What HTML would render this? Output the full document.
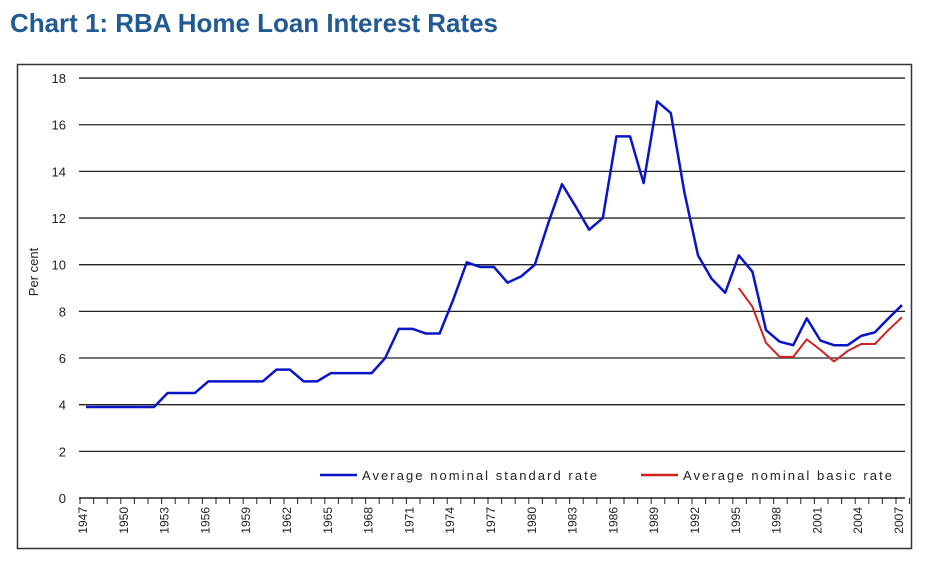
<!DOCTYPE html>
<html><head><meta charset="utf-8"><style>
body{margin:0;background:#fff;width:928px;height:564px;overflow:hidden}
svg{display:block;font-family:"Liberation Sans",sans-serif}
</style></head><body>
<svg id="chart" width="928" height="564">
<text x="10" y="32" font-size="26" font-weight="bold" fill="#215a94" textLength="488" lengthAdjust="spacingAndGlyphs">Chart 1: RBA Home Loan Interest Rates</text>
<rect x="17.5" y="64.5" width="894" height="484" fill="none" stroke="#333" stroke-width="1.5"/>
<g id="grid"></g><g id="yt"></g><g id="xt"></g><g id="series"></g>
<text transform="translate(38,272) rotate(-90)" text-anchor="middle" font-size="13" fill="#222">Per cent</text>
<g><line x1="320" y1="475" x2="357" y2="475" stroke="#0a14c8" stroke-width="2.5"/><text x="362" y="480" font-size="13" fill="#222" textLength="235" lengthAdjust="spacing">Average nominal standard rate</text></g>
<g><line x1="641" y1="475" x2="678" y2="475" stroke="#d42020" stroke-width="2.5"/><text x="683" y="480" font-size="13" fill="#222" textLength="209" lengthAdjust="spacing">Average nominal basic rate</text></g>
</svg>
<script>
const years=[];for(let y=1947;y<=2007;y++)years.push(y);
const standardRate=[3.9,3.9,3.9,3.9,3.9,3.9,4.5,4.5,4.5,5.0,5.0,5.0,5.0,5.0,5.5,5.5,5.0,5.0,5.35,5.35,5.35,5.35,6.0,7.25,7.25,7.05,7.05,8.5,10.1,9.9,9.9,9.23,9.5,10.0,11.8,13.45,12.5,11.5,12.0,15.5,15.5,13.5,17.0,16.5,13.1,10.4,9.4,8.8,10.4,9.7,7.2,6.7,6.55,7.7,6.75,6.55,6.55,6.95,7.1,7.7,8.27];
const basicYears=[1995,1996,1997,1998,1999,2000,2001,2002,2003,2004,2005,2006,2007];
const basicRate=[9.0,8.2,6.65,6.05,6.05,6.8,6.35,5.85,6.3,6.6,6.6,7.2,7.75];
const yTicks=[0,2,4,6,8,10,12,14,16,18];
const xLabels=[1947,1950,1953,1956,1959,1962,1965,1968,1971,1974,1977,1980,1983,1986,1989,1992,1995,1998,2001,2004,2007];
const NS="http://www.w3.org/2000/svg";
const X=y=>86+(y-1947)*13.6, Y=v=>498-v*23.33;
function mk(t,a,p){const e=document.createElementNS(NS,t);for(const k in a)e.setAttribute(k,a[k]);document.getElementById(p).appendChild(e);return e;}
yTicks.forEach(v=>{
 if(v>0){const l=mk('line',{x1:79,x2:905,y1:Y(v),y2:Y(v),stroke:'#222','stroke-width':1.3},'grid');
 
 }
 const t=mk('text',{x:66,y:Y(v)+5,'text-anchor':'end','font-size':13,fill:'#222'},'yt');t.textContent=v;
 
 
});
const ax=mk('line',{x1:79,x2:905,y1:498,y2:498,stroke:'#222','stroke-width':1.5},'xt');


for(let y=1947;y<=2008;y++){const tx=80+(y-1947)*13.6;const tk=mk('line',{x1:tx,x2:tx,y1:498,y2:504,stroke:'#222'},'xt');
 
 }
xLabels.forEach(yr=>{const tx=X(yr)+1;const t=mk('text',{transform:`translate(${tx},507) rotate(-90)`,'text-anchor':'end','font-size':12,fill:'#222'},'xt');t.textContent=yr;
 
 });
const p1=mk('polyline',{points:years.map((y,i)=>X(y)+','+Y(standardRate[i])).join(' '),fill:'none',stroke:'#0a14c8','stroke-width':2.5,'stroke-linejoin':'round'},'series');


const p2=mk('polyline',{points:basicYears.map((y,i)=>X(y)+','+Y(basicRate[i])).join(' '),fill:'none',stroke:'#d42020','stroke-width':2,'stroke-linejoin':'round'},'series');


</script>
</body></html>
